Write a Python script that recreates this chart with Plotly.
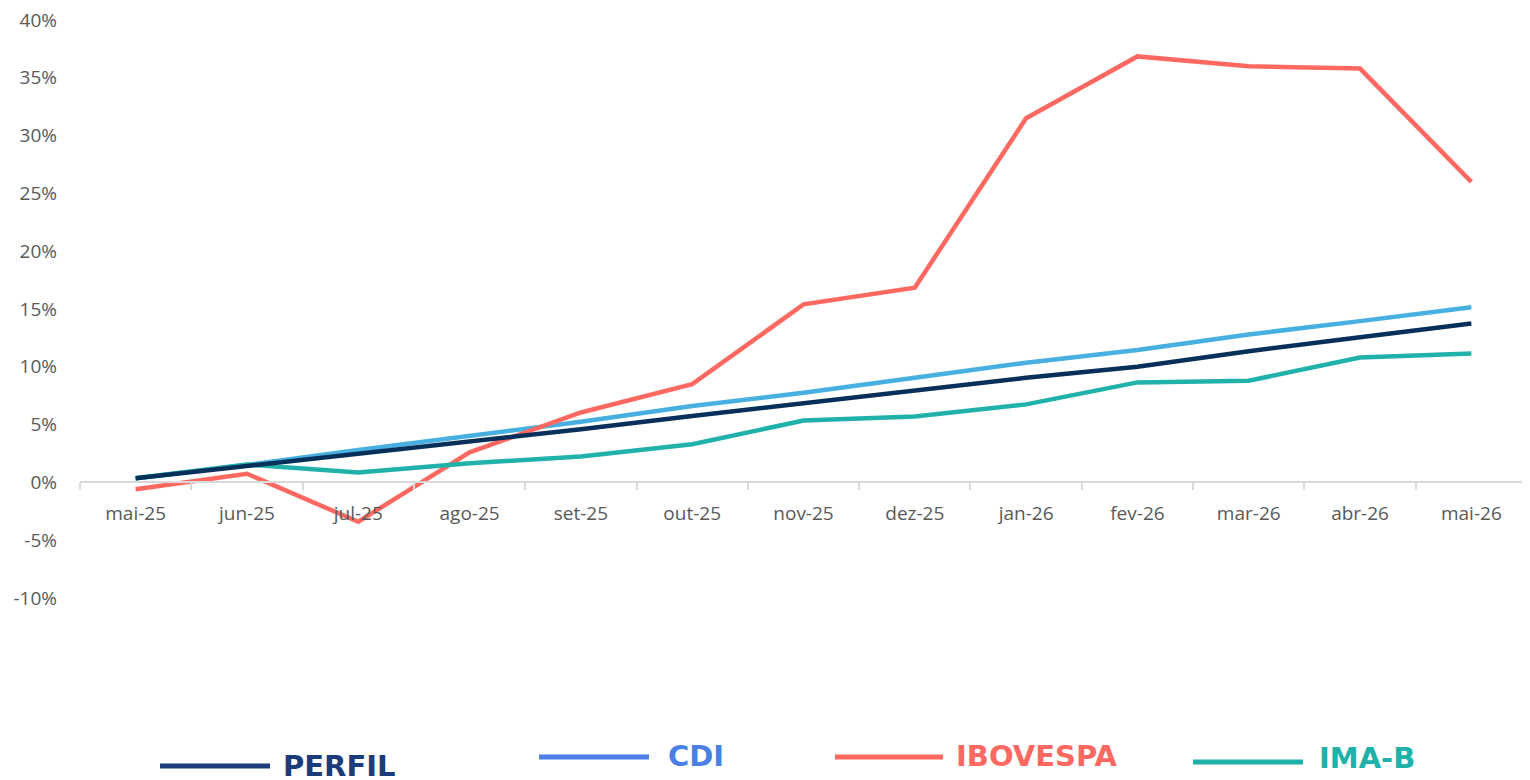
import plotly.graph_objects as go

months = ["mai-25", "jun-25", "jul-25", "ago-25", "set-25", "out-25", "nov-25",
          "dez-25", "jan-26", "fev-26", "mar-26", "abr-26", "mai-26"]

perfil = [0.35, 1.4, 2.45, 3.5, 4.6, 5.75, 6.85, 7.98, 9.05, 10.0, 11.35, 12.55, 13.75]
cdi = [0.35, 1.5, 2.8, 4.0, 5.25, 6.6, 7.75, 9.05, 10.35, 11.45, 12.8, 13.95, 15.15]
ibovespa = [-0.6, 0.75, -3.4, 2.6, 6.05, 8.5, 15.4, 16.85, 31.5, 36.85, 36.0, 35.8, 26.0]
imab = [0.35, 1.55, 0.85, 1.65, 2.25, 3.3, 5.35, 5.7, 6.75, 8.65, 8.8, 10.8, 11.15]

y_ticks = [-10, -5, 0, 5, 10, 15, 20, 25, 30, 35, 40]
y_labels = [f"{v}%" for v in y_ticks]

series = [
    ("CDI", cdi, "#47b0e0"),
    ("IBOVESPA", ibovespa, "#ff6961"),
    ("IMA-B", imab, "#20b2aa"),
    ("PERFIL", perfil, "#062f5a"),
]

fig = go.Figure()
for name, vals, color in series:
    fig.add_trace(go.Scatter(
        x=months, y=vals, mode="lines", name=name,
        line=dict(color=color, width=4.5), showlegend=False,
        hovertemplate="%{x}: %{y:.2f}%<extra>" + name + "</extra>",
    ))

# page body has an 8px margin: figure is shifted accordingly
OFF = 8
W, H = 1530 - OFF, 780 - OFF
PX0, PX1, PY0, PY1 = 80, 1527, 20, 598  # plot area in screen pixels
L, R, T, B = PX0 - OFF, W - (PX1 - OFF), PY0 - OFF, H - (PY1 - OFF)


def px(sx):
    return (sx - PX0) / (PX1 - PX0)


def py(sy):
    return (PY1 - sy) / (PY1 - PY0)


# custom legend (long line samples, coloured labels)
legend_items = [
    ("PERFIL", "#1b3b7b", 160, 270, 766, 281, 766),
    ("CDI", "#4a7fe6", 539, 649, 757, 666, 756),
    ("IBOVESPA", "#ff6961", 835, 943, 757, 954, 756),
    ("IMA-B", "#20b2aa", 1193, 1303, 762, 1317, 758),
]
shapes = []
annotations = []
for label, col, x0, x1, ly, tx, ty in legend_items:
    shapes.append(dict(type="line", xref="paper", yref="paper",
                       x0=px(x0), x1=px(x1), y0=py(ly), y1=py(ly),
                       line=dict(color=col, width=5)))
    annotations.append(dict(text=label, xref="paper", yref="paper",
                            x=px(tx), y=py(ty), xanchor="left", yanchor="middle",
                            showarrow=False,
                            font=dict(family="DejaVu Sans", size=29, color=col,
                                      weight="bold")))

fig.update_layout(
    width=W, height=H,
    margin=dict(l=L, r=R, t=T, b=B, pad=0, autoexpand=False),
    paper_bgcolor="white", plot_bgcolor="white",
    font=dict(family="Open Sans", color="#595959", size=19),
    shapes=shapes, annotations=annotations,
    xaxis=dict(
        type="category", anchor="free", position=0.2, automargin=False,
        showline=True, linecolor="#d9d9d9", linewidth=2,
        ticks="outside", ticklen=7, tickcolor="#d9d9d9", tickwidth=2,
        tickson="boundaries", showgrid=False, zeroline=False,
        tickfont=dict(size=19, color="#595959"),
        ticklabelstandoff=14,
        range=[-0.5, 12.5],
    ),
    yaxis=dict(
        range=[-10, 40], tickmode="array", tickvals=y_ticks, ticktext=y_labels,
        showgrid=False, zeroline=False, showline=False, automargin=False,
        tickfont=dict(size=19, color="#595959"),
        ticklabelstandoff=22, ticklabeloverflow="allow",
    ),
)

fig.write_html("out.html")
